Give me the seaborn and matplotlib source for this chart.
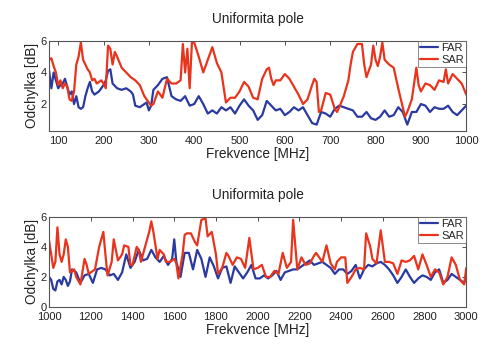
import numpy as np
import pandas as pd
import matplotlib
matplotlib.use("Agg")
import matplotlib.pyplot as plt
import seaborn as sns

# ---- data: 80-1000 MHz ----
top_sar_f = [80, 85, 90, 95, 100, 105, 110, 115, 120, 125, 130, 135, 140, 145, 150, 155, 160, 165, 170, 175,
             180, 185, 190, 195, 200, 205, 210, 215, 220, 225, 230, 240, 250, 260, 270, 280, 290, 300, 305, 310,
             320, 330, 340, 350, 360, 370, 375, 380, 385, 390, 395, 400, 410, 420, 430, 440, 450, 460, 470, 480,
             490, 500, 510, 520, 530, 540, 550, 560, 565, 570, 575, 580, 590, 600, 610, 620, 630, 640, 650, 660,
             665, 670, 675, 680, 690, 700, 710, 715, 720, 730, 740, 745, 750, 760, 770, 775, 780, 790, 795, 800,
             805, 810, 815, 820, 830, 840, 850, 860, 865, 870, 880, 890, 895, 900, 910, 920, 930, 940, 950, 955,
             960, 970, 980, 990, 1000]
top_sar = [4.8, 4.9, 4.4, 4.0, 3.2, 3.5, 3.0, 3.3, 3.1, 2.3, 2.2, 2.8, 4.5, 5.0, 5.9, 4.8, 4.5, 4.2, 4.0, 3.5,
           3.6, 3.3, 3.4, 3.5, 3.3, 3.0, 5.7, 5.5, 4.5, 5.3, 5.0, 4.3, 4.0, 3.7, 3.5, 3.2, 2.5, 2.1, 1.9, 2.0,
           2.8, 2.4, 3.6, 3.3, 3.3, 3.5, 5.8, 4.0, 5.5, 3.0, 5.9, 5.9, 5.0, 4.0, 4.8, 5.6, 4.6, 4.0, 2.1, 2.4,
           2.4, 2.8, 3.4, 3.1, 2.4, 2.3, 3.6, 4.2, 4.3, 3.6, 3.2, 3.5, 3.5, 3.9, 3.6, 3.1, 2.6, 2.0, 2.3, 3.2,
           3.6, 3.4, 1.5, 1.6, 2.7, 2.6, 1.7, 1.5, 1.8, 2.5, 3.5, 4.5, 5.3, 5.8, 5.8, 4.5, 3.7, 4.5, 5.7, 4.8,
           4.4, 5.0, 5.9, 4.8, 4.5, 4.3, 3.0, 1.8, 1.2, 1.5, 2.3, 4.3, 3.2, 2.8, 3.3, 3.2, 2.9, 3.5, 3.4, 4.2,
           3.3, 3.9, 3.6, 3.3, 2.6]
top_far_f = [80, 85, 90, 95, 100, 105, 110, 115, 120, 125, 130, 135, 140, 145, 150, 155, 160, 165, 170, 175,
             180, 190, 200, 205, 210, 215, 220, 230, 240, 250, 260, 265, 270, 280, 290, 295, 300, 305, 310, 320,
             330, 340, 350, 360, 370, 380, 390, 400, 410, 420, 430, 440, 450, 460, 470, 480, 490, 500, 510, 520,
             530, 540, 550, 560, 570, 580, 590, 600, 610, 620, 630, 640, 650, 660, 670, 680, 690, 700, 710, 720,
             730, 740, 750, 760, 770, 780, 790, 800, 810, 820, 830, 840, 850, 860, 870, 880, 890, 900, 910, 920,
             930, 940, 950, 960, 970, 980, 990, 1000]
top_far = [4.1, 3.0, 4.0, 3.5, 3.0, 3.2, 3.3, 3.6, 3.1, 2.6, 2.8, 2.0, 2.5, 1.8, 1.7, 1.8, 2.5, 3.0, 3.4, 2.8,
           2.6, 2.8, 3.2, 3.5, 4.1, 4.2, 3.3, 3.0, 2.9, 3.0, 2.8, 2.6, 1.9, 1.8, 2.0, 2.1, 1.6, 1.9, 2.9, 3.2,
           3.6, 3.7, 2.5, 2.3, 2.2, 2.5, 1.9, 2.0, 2.5, 2.0, 1.4, 1.6, 1.4, 1.8, 1.6, 1.8, 1.4, 1.9, 2.3, 1.9,
           1.6, 1.0, 1.3, 2.2, 1.9, 1.6, 1.7, 1.3, 1.5, 1.8, 1.6, 1.8, 1.3, 0.8, 0.7, 1.5, 1.4, 1.2, 1.7, 1.9,
           1.8, 1.7, 1.6, 1.2, 1.2, 1.5, 1.1, 1.0, 1.2, 1.6, 1.2, 1.3, 1.8, 1.5, 0.7, 1.5, 1.5, 2.0, 1.9, 1.5,
           1.8, 1.7, 1.7, 1.9, 1.5, 1.3, 1.6, 1.9]

# ---- data: 1000-3000 MHz ----
bot_sar_f = [1000, 1020, 1030, 1040, 1050, 1060, 1070, 1080, 1090, 1100, 1120, 1130, 1150, 1170, 1180, 1190,
             1200, 1220, 1240, 1260, 1270, 1280, 1300, 1310, 1320, 1330, 1350, 1360, 1380, 1390, 1400, 1420,
             1430, 1440, 1460, 1480, 1490, 1500, 1520, 1530, 1550, 1560, 1580, 1600, 1610, 1620, 1640, 1650,
             1660, 1680, 1700, 1710, 1730, 1750, 1760, 1780, 1800, 1810, 1830, 1850, 1860, 1880, 1900, 1920,
             1940, 1960, 1980, 2000, 2020, 2040, 2060, 2080, 2100, 2120, 2140, 2160, 2170, 2190, 2210, 2230,
             2250, 2270, 2280, 2300, 2310, 2330, 2350, 2370, 2380, 2400, 2420, 2430, 2450, 2470, 2490, 2510,
             2520, 2540, 2550, 2570, 2590, 2610, 2630, 2650, 2670, 2690, 2710, 2730, 2750, 2770, 2790, 2810,
             2830, 2850, 2870, 2890, 2910, 2930, 2950, 2970, 2990, 3000]
bot_sar = [4.4, 2.6, 3.0, 5.3, 3.5, 3.0, 3.5, 4.5, 4.0, 2.3, 2.5, 2.0, 1.5, 3.2, 2.8, 2.2,
           2.3, 2.5, 4.0, 5.0, 3.5, 2.1, 3.0, 4.5, 3.8, 3.1, 3.5, 4.1, 4.0, 2.8, 2.8, 4.0,
           3.8, 3.0, 4.0, 5.0, 5.7, 5.0, 3.2, 3.8, 3.5, 3.0, 3.0, 3.2, 2.9, 1.9, 3.5, 4.8,
           4.9, 4.9, 4.3, 4.1, 5.8, 5.9, 4.7, 5.0, 3.5, 2.2, 2.6, 3.6, 3.4, 2.8, 3.3, 3.2,
           2.6, 4.6, 2.5, 2.6, 2.8, 2.0, 2.0, 2.4, 2.2, 3.6, 2.6, 3.0, 5.8, 2.5, 3.3, 2.8,
           2.9, 3.4, 3.6, 3.2, 3.0, 4.1, 2.9, 2.5, 3.0, 3.3, 3.3, 1.6, 2.0, 2.5, 2.6, 2.5,
           4.9, 4.0, 3.2, 2.9, 5.1, 3.0, 3.0, 2.9, 2.2, 3.1, 3.0, 3.1, 3.4, 2.5, 3.5, 2.8,
           2.0, 2.5, 2.3, 1.5, 2.0, 3.3, 2.8, 1.8, 1.5, 2.6]
bot_far_f = [1000, 1010, 1020, 1030, 1040, 1050, 1060, 1070, 1080, 1090, 1100, 1110, 1130, 1150, 1170, 1190,
             1210, 1230, 1250, 1270, 1290, 1310, 1330, 1350, 1370, 1390, 1410, 1430, 1450, 1470, 1490, 1510,
             1530, 1550, 1570, 1590, 1600, 1610, 1630, 1650, 1670, 1690, 1710, 1730, 1750, 1770, 1790, 1810,
             1830, 1850, 1870, 1890, 1910, 1930, 1950, 1970, 1990, 2010, 2030, 2050, 2070, 2090, 2110, 2130,
             2150, 2170, 2190, 2210, 2230, 2250, 2270, 2290, 2310, 2330, 2350, 2370, 2390, 2410, 2430, 2450,
             2470, 2490, 2510, 2530, 2550, 2570, 2590, 2610, 2630, 2650, 2670, 2690, 2710, 2730, 2750, 2770,
             2790, 2810, 2830, 2850, 2870, 2890, 2910, 2930, 2950, 2970, 2990, 3000]
bot_far = [2.0, 1.8, 1.2, 1.1, 1.7, 1.8, 1.5, 2.0, 1.8, 1.4, 1.7, 2.5, 2.3, 1.6, 2.1, 2.2,
           1.6, 2.5, 2.6, 2.5, 2.1, 2.2, 1.8, 2.3, 3.5, 2.6, 3.0, 3.8, 3.1, 3.2, 3.8, 3.3,
           3.0, 3.4, 2.8, 3.2, 4.5, 3.0, 2.0, 3.6, 3.6, 2.5, 3.8, 3.2, 2.0, 3.3, 2.7, 1.9,
           2.6, 2.7, 1.6, 2.7, 2.3, 1.9, 2.3, 2.8, 1.9, 1.9, 2.1, 1.9, 2.1, 2.4, 1.8, 2.3,
           2.4, 2.5, 2.5, 2.7, 2.9, 3.1, 2.8, 2.9, 3.0, 2.8, 2.6, 2.2, 2.5, 2.5, 2.2, 2.4,
           2.8, 1.9, 2.5, 2.8, 2.7, 2.9, 3.0, 2.8, 2.5, 2.1, 1.6, 2.0, 2.5, 2.0, 1.6, 1.9,
           2.1, 2.0, 1.8, 2.3, 2.5, 1.6, 1.8, 2.2, 2.0, 1.8, 1.6, 2.0]

series_names = ["FAR", "SAR"]
title_text = "Uniformita pole"
xlabel_text = "Frekvence [MHz]"
ylabel_text = "Odchylka [dB]"
top_xticks = [100, 200, 300, 400, 500, 600, 700, 800, 900, 1000]
top_yticks = [2, 4, 6]
bot_xticks = [1000, 1200, 1400, 1600, 1800, 2000, 2200, 2400, 2600, 2800, 3000]
bot_yticks = [0, 2, 4, 6]


def make_df(ff, fv, sf, sv):
    a = pd.DataFrame({"f": ff, "v": fv, "s": series_names[0]})
    b = pd.DataFrame({"f": sf, "v": sv, "s": series_names[1]})
    return pd.concat([a, b], ignore_index=True)


sns.set_theme(style="white")
plt.rcParams["font.family"] = ["Liberation Sans", "DejaVu Sans"]
plt.rcParams["xtick.direction"] = "in"
plt.rcParams["ytick.direction"] = "in"

palette = {"FAR": "#2a3aa0", "SAR": "#e8341c"}

fig = plt.figure(figsize=(4.96, 3.52), dpi=100)
ax1 = fig.add_axes([0.099, 0.628, 0.841, 0.256])
ax2 = fig.add_axes([0.099, 0.128, 0.841, 0.256])

configs = [
    (ax1, make_df(top_far_f, top_far, top_sar_f, top_sar), (80, 1000), (0.3, 6), top_xticks, top_yticks),
    (ax2, make_df(bot_far_f, bot_far, bot_sar_f, bot_sar), (1000, 3000), (0, 6), bot_xticks, bot_yticks),
]

for ax, df, xl, yl, xt, yt in configs:
    sns.lineplot(data=df, x="f", y="v", hue="s", palette=palette, ax=ax,
                 linewidth=1.6, estimator=None, sort=False)
    ax.set_xlim(*xl)
    ax.set_ylim(*yl)
    ax.set_xticks(xt)
    ax.set_yticks(yt)
    ax.tick_params(axis="both", which="both", direction="in", length=3, width=0.6,
                   labelsize=8, top=True, right=True, colors="#333333",
                   labelcolor="#222222")
    ax.tick_params(axis="x", pad=3.5)
    ax.tick_params(axis="y", pad=1.5)
    for sp in ax.spines.values():
        sp.set_color("#555555")
        sp.set_linewidth(0.8)
    ax.set_title(title_text, fontsize=9.8, pad=13, color="#222222")
    ax.set_xlabel(xlabel_text, fontsize=9.8, labelpad=1, color="#222222")
    ax.set_ylabel(ylabel_text, fontsize=9.8, labelpad=1, color="#222222")
    leg = ax.legend(loc="upper right", fontsize=8, frameon=True, fancybox=False,
                    borderpad=0.2, handlelength=1.6, handletextpad=0.3,
                    labelspacing=0.15, borderaxespad=0.0)
    leg.get_frame().set_edgecolor("#555555")
    leg.get_frame().set_linewidth(0.6)
    leg.set_title(None)

fig.savefig("out.png", dpi=100)
